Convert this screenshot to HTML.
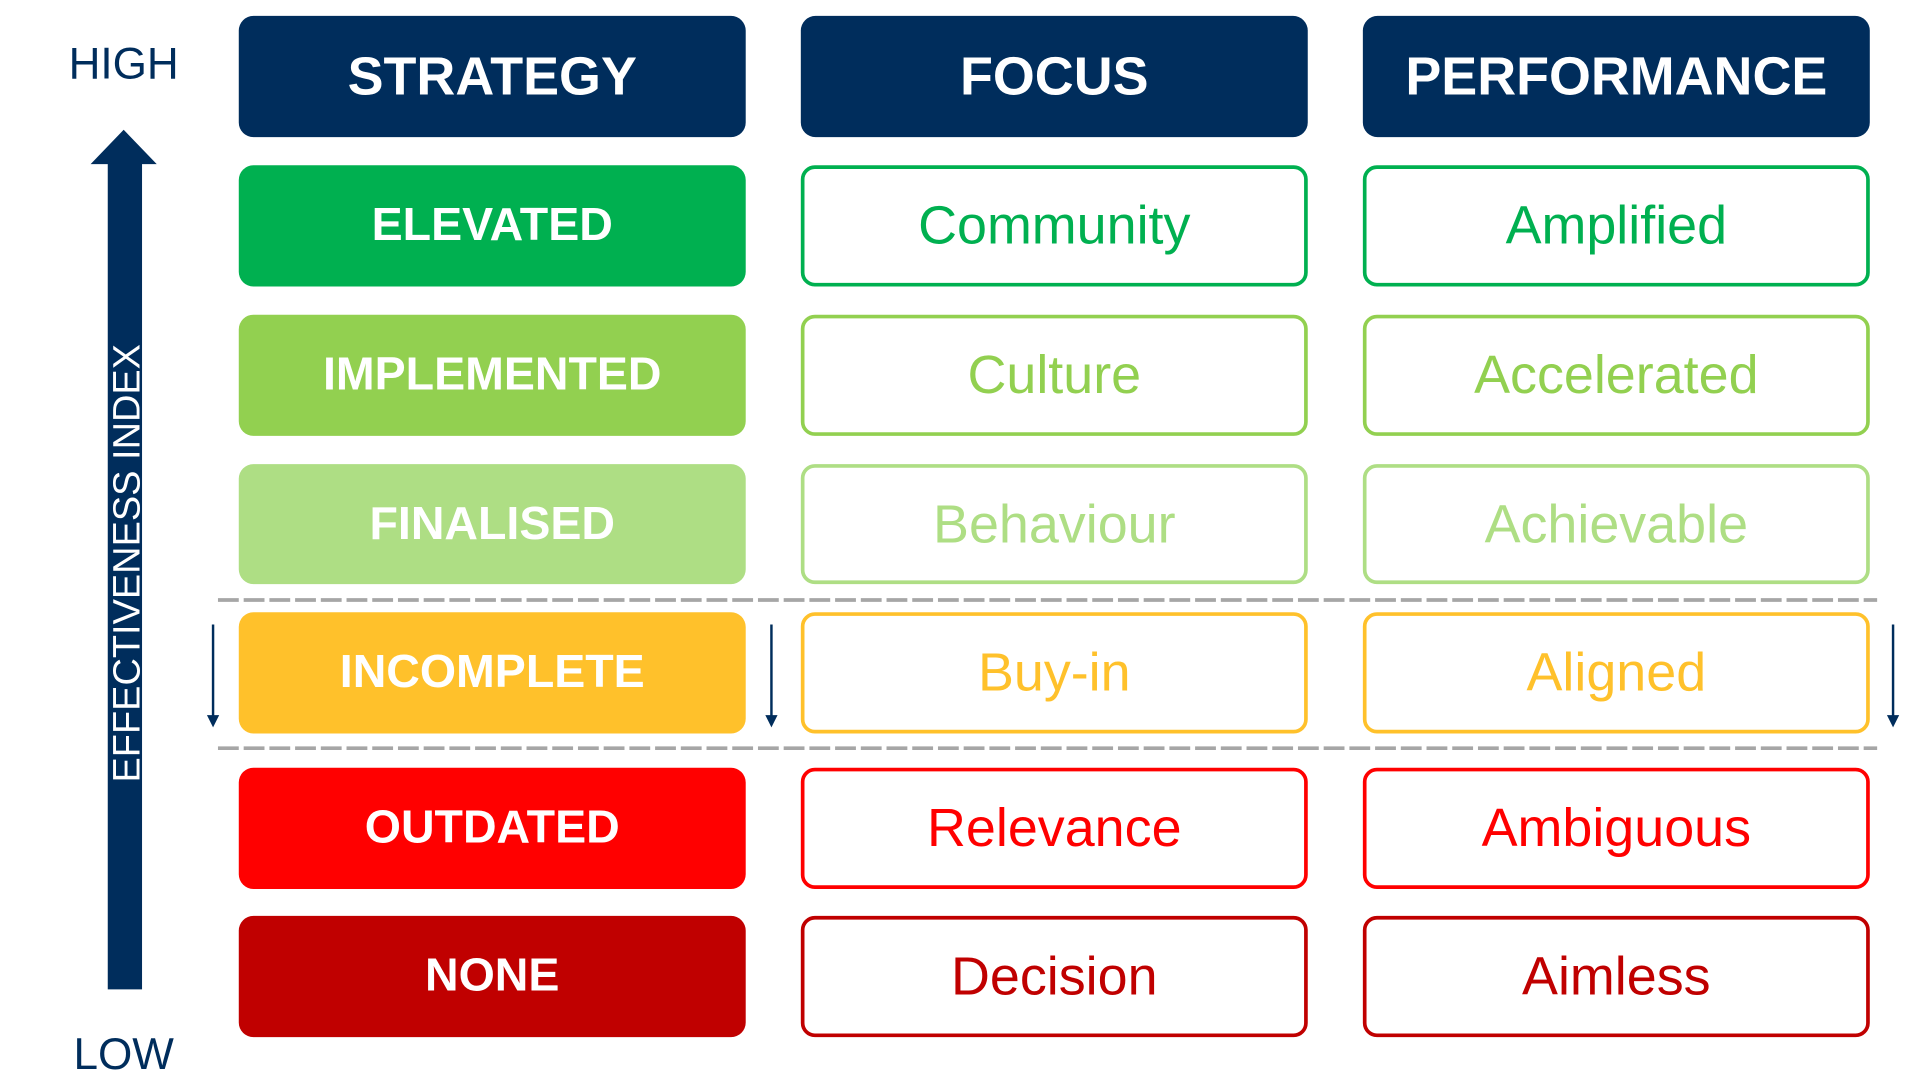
<!DOCTYPE html>
<html><head><meta charset="utf-8"><style>
html,body{margin:0;padding:0;background:#fff;width:1920px;height:1080px;overflow:hidden}
svg{display:block}
.h{font-family:"Liberation Sans",sans-serif;font-weight:bold;fill:#fff;font-size:44px;text-anchor:middle}
.s{font-family:"Liberation Sans",sans-serif;font-weight:bold;fill:#fff;font-size:38px;text-anchor:middle}
.t{font-family:"Liberation Sans",sans-serif;font-size:44px;text-anchor:middle}
</style></head><body>
<svg width="1920" height="1080" viewBox="0 0 1568 882" preserveAspectRatio="none">
<g>
<rect x="195" y="13" width="414" height="99" rx="12" fill="#002D5C"/>
<rect x="654" y="13" width="414" height="99" rx="12" fill="#002D5C"/>
<rect x="1113" y="13" width="414" height="99" rx="12" fill="#002D5C"/>
<text class="h" x="402" y="77">STRATEGY</text>
<text class="h" x="861" y="77">FOCUS</text>
<text class="h" x="1320" y="77">PERFORMANCE</text>
</g>
<g>
<rect x="195" y="135" width="414" height="99" rx="12" fill="#00B050"/>
<rect x="655.5" y="136.5" width="411" height="96" rx="10" fill="none" stroke="#00B050" stroke-width="3"/>
<rect x="1114.5" y="136.5" width="411" height="96" rx="10" fill="none" stroke="#00B050" stroke-width="3"/>
<text class="s" x="402" y="196">ELEVATED</text>
<text class="t" x="861" y="199" fill="#00B050">Community</text>
<text class="t" x="1320" y="199" fill="#00B050">Amplified</text>

<rect x="195" y="257" width="414" height="99" rx="12" fill="#92D050"/>
<rect x="655.5" y="258.5" width="411" height="96" rx="10" fill="none" stroke="#92D050" stroke-width="3"/>
<rect x="1114.5" y="258.5" width="411" height="96" rx="10" fill="none" stroke="#92D050" stroke-width="3"/>
<text class="s" x="402" y="318">IMPLEMENTED</text>
<text class="t" x="861" y="321" fill="#92D050">Culture</text>
<text class="t" x="1320" y="321" fill="#92D050">Accelerated</text>

<rect x="195" y="379" width="414" height="98" rx="12" fill="#AEDE84"/>
<rect x="655.5" y="380.5" width="411" height="95" rx="10" fill="none" stroke="#AEDE84" stroke-width="3"/>
<rect x="1114.5" y="380.5" width="411" height="95" rx="10" fill="none" stroke="#AEDE84" stroke-width="3"/>
<text class="s" x="402" y="440">FINALISED</text>
<text class="t" x="861" y="443" fill="#AEDE84">Behaviour</text>
<text class="t" x="1320" y="443" fill="#AEDE84">Achievable</text>

<rect x="195" y="500" width="414" height="99" rx="12" fill="#FFC12B"/>
<rect x="655.5" y="501.5" width="411" height="96" rx="10" fill="none" stroke="#FFC12B" stroke-width="3"/>
<rect x="1114.5" y="501.5" width="411" height="96" rx="10" fill="none" stroke="#FFC12B" stroke-width="3"/>
<text class="s" x="402" y="561">INCOMPLETE</text>
<text class="t" x="861" y="564" fill="#FFC12B">Buy-in</text>
<text class="t" x="1320" y="564" fill="#FFC12B">Aligned</text>

<rect x="195" y="627" width="414" height="99" rx="12" fill="#FF0000"/>
<rect x="655.5" y="628.5" width="411" height="96" rx="10" fill="none" stroke="#FF0000" stroke-width="3"/>
<rect x="1114.5" y="628.5" width="411" height="96" rx="10" fill="none" stroke="#FF0000" stroke-width="3"/>
<text class="s" x="402" y="688">OUTDATED</text>
<text class="t" x="861" y="691" fill="#FF0000">Relevance</text>
<text class="t" x="1320" y="691" fill="#FF0000">Ambiguous</text>

<rect x="195" y="748" width="414" height="99" rx="12" fill="#C00000"/>
<rect x="655.5" y="749.5" width="411" height="96" rx="10" fill="none" stroke="#C00000" stroke-width="3"/>
<rect x="1114.5" y="749.5" width="411" height="96" rx="10" fill="none" stroke="#C00000" stroke-width="3"/>
<text class="s" x="402" y="809">NONE</text>
<text class="t" x="861" y="812" fill="#C00000">Decision</text>
<text class="t" x="1320" y="812" fill="#C00000">Aimless</text>
</g>
<line x1="178" y1="490" x2="1533" y2="490" stroke="#A6A6A6" stroke-width="3" stroke-dasharray="17,4"/>
<line x1="178" y1="611" x2="1533" y2="611" stroke="#A6A6A6" stroke-width="3" stroke-dasharray="17,4"/>
<g stroke="#002D5C" stroke-width="2" fill="#002D5C">
<line x1="174" y1="510" x2="174" y2="586"/><polygon points="169,584 179,584 174,594" stroke="none"/>
<line x1="630" y1="510" x2="630" y2="586"/><polygon points="625,584 635,584 630,594" stroke="none"/>
<line x1="1546" y1="510" x2="1546" y2="586"/><polygon points="1541,584 1551,584 1546,594" stroke="none"/>
</g>
<polygon points="88,808 116,808 116,134 128,134 101,106 74,134 88,134" fill="#002D5C"/>
<text x="0" y="0" transform="translate(114,460) rotate(-90)" font-family="'Liberation Sans',sans-serif" font-size="31" fill="#fff" text-anchor="middle">EFFECTIVENESS INDEX</text>
<text x="101" y="64" font-family="'Liberation Sans',sans-serif" font-size="36" fill="#002D5C" text-anchor="middle">HIGH</text>
<text x="101" y="873" font-family="'Liberation Sans',sans-serif" font-size="36" fill="#002D5C" text-anchor="middle">LOW</text>
</svg>
</body></html>
